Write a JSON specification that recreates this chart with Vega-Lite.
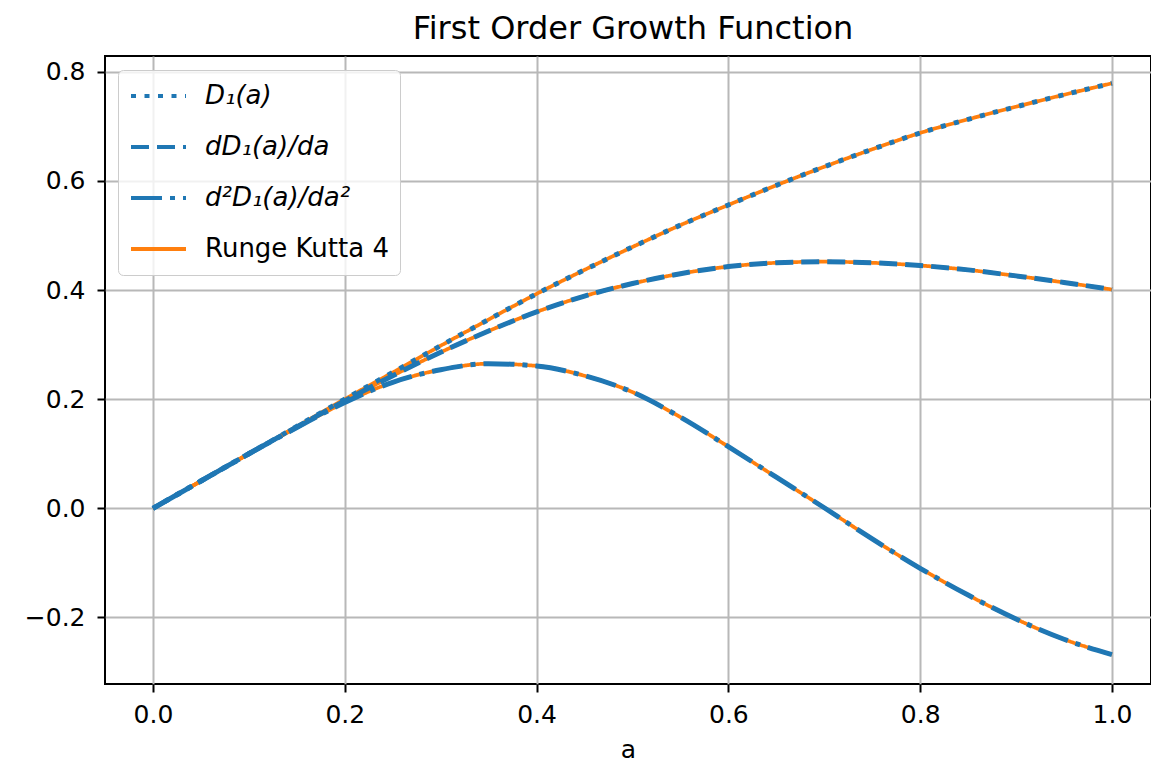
{
  "$schema": "https://vega.github.io/schema/vega-lite/v6.json",
  "width": 1046,
  "height": 628,
  "autosize": {"type": "none"},
  "padding": {"left": 105, "top": 56, "right": 0, "bottom": 86},
  "background": "white",
  "title": {"text": "First Order Growth Function", "fontSize": 32, "fontWeight": "normal", "color": "black", "font": "DejaVu Sans", "offset": 10, "anchor": "middle", "dx": 5},
  "config": {
    "font": "DejaVu Sans",
    "view": {"stroke": "black", "strokeWidth": 2},
    "axis": {"grid": true, "gridColor": "#b8b8b8", "gridWidth": 2, "domain": false, "tickColor": "black", "tickWidth": 2, "tickSize": 8, "labelColor": "black", "labelFontSize": 25, "labelFont": "DejaVu Sans", "titleFont": "DejaVu Sans", "titleFontSize": 25, "titleFontWeight": "normal", "titleColor": "black"}
  },
  "data": {"values": [
    {"a": 0.00, "D1": 0.000, "dD1": 0.000, "d2D1": 0.000},
    {"a": 0.05, "D1": 0.050, "dD1": 0.050, "d2D1": 0.050},
    {"a": 0.10, "D1": 0.100, "dD1": 0.100, "d2D1": 0.100},
    {"a": 0.15, "D1": 0.150, "dD1": 0.149, "d2D1": 0.148},
    {"a": 0.20, "D1": 0.200, "dD1": 0.197, "d2D1": 0.194},
    {"a": 0.25, "D1": 0.249, "dD1": 0.243, "d2D1": 0.231},
    {"a": 0.30, "D1": 0.298, "dD1": 0.286, "d2D1": 0.254},
    {"a": 0.35, "D1": 0.346, "dD1": 0.325, "d2D1": 0.265},
    {"a": 0.40, "D1": 0.393, "dD1": 0.360, "d2D1": 0.261},
    {"a": 0.45, "D1": 0.437, "dD1": 0.389, "d2D1": 0.243},
    {"a": 0.50, "D1": 0.479, "dD1": 0.412, "d2D1": 0.213},
    {"a": 0.55, "D1": 0.519, "dD1": 0.430, "d2D1": 0.167},
    {"a": 0.60, "D1": 0.556, "dD1": 0.443, "d2D1": 0.113},
    {"a": 0.65, "D1": 0.592, "dD1": 0.450, "d2D1": 0.057},
    {"a": 0.70, "D1": 0.626, "dD1": 0.452, "d2D1": 0.001},
    {"a": 0.75, "D1": 0.658, "dD1": 0.450, "d2D1": -0.056},
    {"a": 0.80, "D1": 0.688, "dD1": 0.445, "d2D1": -0.110},
    {"a": 0.85, "D1": 0.713, "dD1": 0.437, "d2D1": -0.159},
    {"a": 0.90, "D1": 0.736, "dD1": 0.426, "d2D1": -0.203},
    {"a": 0.95, "D1": 0.758, "dD1": 0.414, "d2D1": -0.240},
    {"a": 1.00, "D1": 0.779, "dD1": 0.401, "d2D1": -0.268}
  ]},
  "transform": [{"fold": ["D1", "dD1", "d2D1"], "as": ["curve", "value"]}],
  "encoding": {
    "x": {"field": "a", "type": "quantitative", "title": "a",
          "scale": {"domain": [-0.05, 1.0407], "nice": false, "zero": false},
          "axis": {"values": [0, 0.2, 0.4, 0.6, 0.8, 1.0], "format": ".1f", "labelPadding": 10, "titlePadding": 10}},
    "y": {"field": "value", "type": "quantitative", "title": null,
          "scale": {"domain": [-0.322, 0.829], "nice": false, "zero": false},
          "axis": {"values": [-0.2, 0, 0.2, 0.4, 0.6, 0.8], "format": ".1f", "labelPadding": 12}}
  },
  "layer": [
    {
      "mark": {"type": "line", "strokeWidth": 3.7, "interpolate": "monotone"},
      "encoding": {
        "detail": {"field": "curve", "type": "nominal"},
        "color": {"datum": "RK4", "type": "nominal"},
        "strokeDash": {"datum": "RK4", "type": "nominal"}
      }
    },
    {
      "mark": {"type": "line", "strokeWidth": 5, "interpolate": "monotone"},
      "encoding": {
        "color": {"field": "curve", "type": "nominal",
          "scale": {"domain": ["D1", "dD1", "d2D1", "RK4"], "range": ["#1f77b4", "#1f77b4", "#1f77b4", "#ff7f0e"]},
          "legend": {"title": null, "orient": "none", "legendX": 13, "legendY": 14,
            "symbolType": "stroke", "symbolSize": 3025, "symbolStrokeWidth": 4, "clipHeight": 30,
            "labelFontSize": 26, "labelFont": "DejaVu Sans", "labelColor": "black", "labelOffset": 17, "labelLimit": 500,
            "padding": 11, "rowPadding": 21, "fillColor": "rgba(255,255,255,0.8)", "strokeColor": "#cccccc", "cornerRadius": 5,
            "labelExpr": "datum.value == 'D1' ? 'D₁(a)' : datum.value == 'dD1' ? 'dD₁(a)/da' : datum.value == 'd2D1' ? 'd²D₁(a)/da²' : 'Runge Kutta 4'",
            "encode": {"labels": {"update": {"fontStyle": {"signal": "datum.value == 'RK4' ? 'normal' : 'italic'"}}}}}},
        "strokeDash": {"field": "curve", "type": "nominal",
          "scale": {"domain": ["D1", "dD1", "d2D1", "RK4"], "range": [[5, 8.5], [18, 8], [31, 8, 5, 8], [1, 0]]}}
      }
    }
  ]
}
